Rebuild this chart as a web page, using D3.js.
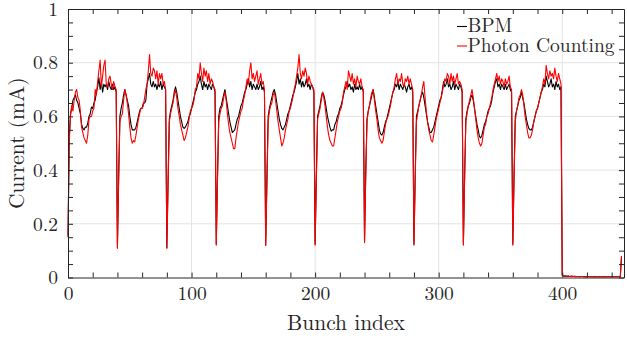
<!DOCTYPE html>
<html>
<head>
<meta charset="utf-8">
<script src="https://cdn.jsdelivr.net/npm/d3@7"></script>
<style>
  body { margin: 0; background: #fff; }
  svg { display: block; }
</style>
</head>
<body>
<div id="chart"></div>
<script>
// bunch current, one line per 40-bunch train
const bpmCurrent = [
  0.15,0.52,0.61,0.63,0.66,0.67,0.68,0.66,0.65,0.63,0.61,0.57,0.555,0.55,0.56,0.56,0.575,0.60,0.61,0.635,0.63,0.65,0.66,0.69,0.71,0.745,0.70,0.73,0.69,0.72,0.71,0.72,0.70,0.73,0.71,0.70,0.72,0.70,0.71,0.69,
  0.11,0.38,0.60,0.63,0.65,0.68,0.70,0.68,0.66,0.64,0.60,0.57,0.55,0.55,0.55,0.56,0.58,0.60,0.62,0.63,0.63,0.65,0.65,0.66,0.72,0.74,0.76,0.72,0.71,0.73,0.71,0.72,0.70,0.72,0.71,0.73,0.70,0.72,0.71,0.70,
  0.11,0.36,0.59,0.62,0.64,0.66,0.69,0.71,0.69,0.66,0.63,0.60,0.58,0.56,0.555,0.56,0.57,0.58,0.60,0.61,0.63,0.65,0.67,0.69,0.70,0.72,0.73,0.75,0.72,0.70,0.73,0.71,0.72,0.70,0.72,0.71,0.70,0.72,0.71,0.69,
  0.125,0.38,0.60,0.63,0.64,0.66,0.68,0.70,0.67,0.64,0.61,0.58,0.56,0.54,0.545,0.55,0.57,0.59,0.60,0.62,0.64,0.65,0.67,0.69,0.70,0.72,0.74,0.71,0.73,0.70,0.72,0.71,0.70,0.72,0.70,0.71,0.73,0.70,0.71,0.69,
  0.12,0.37,0.60,0.63,0.65,0.67,0.69,0.70,0.68,0.65,0.62,0.59,0.57,0.555,0.55,0.56,0.57,0.59,0.61,0.62,0.64,0.66,0.68,0.69,0.71,0.73,0.76,0.72,0.74,0.71,0.73,0.71,0.72,0.74,0.71,0.72,0.70,0.72,0.71,0.69,
  0.125,0.38,0.60,0.62,0.64,0.67,0.69,0.68,0.66,0.63,0.60,0.58,0.56,0.545,0.55,0.55,0.57,0.58,0.60,0.61,0.63,0.64,0.66,0.68,0.70,0.71,0.73,0.71,0.72,0.70,0.71,0.69,0.72,0.70,0.71,0.70,0.72,0.70,0.71,0.69,
  0.135,0.40,0.59,0.62,0.64,0.66,0.68,0.70,0.67,0.64,0.61,0.58,0.55,0.535,0.53,0.54,0.56,0.58,0.59,0.61,0.63,0.65,0.67,0.69,0.70,0.72,0.71,0.73,0.70,0.72,0.71,0.70,0.72,0.71,0.69,0.71,0.72,0.70,0.71,0.69,
  0.125,0.38,0.60,0.62,0.64,0.66,0.68,0.69,0.67,0.64,0.61,0.58,0.56,0.54,0.54,0.55,0.56,0.58,0.60,0.62,0.64,0.66,0.67,0.70,0.73,0.71,0.72,0.74,0.71,0.72,0.70,0.71,0.73,0.70,0.72,0.71,0.70,0.72,0.71,0.69,
  0.125,0.38,0.59,0.62,0.64,0.65,0.67,0.68,0.66,0.63,0.60,0.57,0.55,0.525,0.52,0.53,0.55,0.57,0.58,0.60,0.62,0.63,0.64,0.66,0.69,0.71,0.73,0.74,0.71,0.72,0.70,0.72,0.71,0.70,0.72,0.70,0.71,0.72,0.70,0.69,
  0.125,0.38,0.60,0.62,0.64,0.66,0.67,0.69,0.67,0.65,0.62,0.59,0.57,0.555,0.55,0.55,0.56,0.58,0.60,0.62,0.63,0.65,0.67,0.69,0.70,0.72,0.71,0.75,0.73,0.71,0.72,0.74,0.71,0.72,0.70,0.73,0.71,0.72,0.70,0.71,
  0.008,0.006,0.005,0.005,0.004,0.005,0.004,0.004,0.005,0.004,0.004,0.003,0.004,0.004,0.003,0.004,0.004,0.003,0.003,0.004,0.003,0.003,0.004,0.003,0.003,
  0.003,0.004,0.003,0.003,0.003,0.004,0.003,0.003,0.003,0.004,0.003,0.003,0.003,0.004,0.003,0.003,0.003,0.004,0.003,0.003,0.003,0.004,0.003,0.078
];

const photonCurrent = [
  0.16,0.50,0.60,0.64,0.62,0.66,0.69,0.70,0.67,0.66,0.62,0.56,0.54,0.52,0.51,0.50,0.53,0.59,0.60,0.60,0.62,0.63,0.70,0.68,0.73,0.77,0.81,0.71,0.75,0.79,0.81,0.72,0.71,0.74,0.75,0.72,0.70,0.73,0.71,0.70,
  0.11,0.36,0.58,0.60,0.61,0.66,0.70,0.68,0.65,0.61,0.56,0.52,0.50,0.51,0.505,0.53,0.56,0.59,0.61,0.63,0.63,0.64,0.67,0.70,0.72,0.77,0.83,0.76,0.75,0.78,0.77,0.74,0.77,0.72,0.76,0.74,0.76,0.72,0.73,0.70,
  0.11,0.34,0.58,0.61,0.63,0.65,0.68,0.70,0.67,0.63,0.60,0.57,0.55,0.53,0.51,0.52,0.54,0.56,0.59,0.62,0.63,0.64,0.66,0.70,0.71,0.76,0.74,0.80,0.76,0.73,0.78,0.75,0.77,0.73,0.76,0.72,0.74,0.73,0.71,0.70,
  0.12,0.36,0.58,0.61,0.63,0.64,0.67,0.69,0.66,0.61,0.57,0.54,0.52,0.50,0.48,0.48,0.52,0.55,0.58,0.60,0.62,0.63,0.66,0.68,0.71,0.74,0.72,0.77,0.80,0.74,0.76,0.73,0.75,0.77,0.72,0.74,0.76,0.72,0.73,0.70,
  0.12,0.35,0.58,0.62,0.64,0.65,0.68,0.69,0.66,0.62,0.58,0.55,0.52,0.49,0.50,0.52,0.55,0.57,0.59,0.62,0.63,0.65,0.67,0.70,0.72,0.75,0.78,0.83,0.76,0.74,0.77,0.75,0.78,0.76,0.72,0.75,0.73,0.72,0.71,0.70,
  0.12,0.36,0.59,0.61,0.63,0.66,0.69,0.67,0.64,0.60,0.56,0.53,0.51,0.50,0.49,0.49,0.52,0.55,0.58,0.60,0.62,0.63,0.65,0.69,0.71,0.73,0.70,0.77,0.75,0.73,0.76,0.72,0.74,0.71,0.75,0.73,0.72,0.74,0.71,0.70,
  0.13,0.38,0.58,0.62,0.64,0.67,0.69,0.70,0.66,0.62,0.59,0.55,0.52,0.51,0.50,0.51,0.54,0.57,0.59,0.60,0.62,0.64,0.67,0.69,0.71,0.74,0.76,0.72,0.74,0.73,0.76,0.72,0.71,0.74,0.73,0.75,0.72,0.74,0.72,0.70,
  0.12,0.36,0.58,0.61,0.64,0.66,0.68,0.71,0.73,0.67,0.62,0.58,0.55,0.53,0.51,0.505,0.53,0.56,0.59,0.61,0.63,0.65,0.67,0.69,0.72,0.74,0.73,0.76,0.75,0.72,0.76,0.73,0.75,0.72,0.74,0.76,0.72,0.73,0.72,0.70,
  0.12,0.36,0.58,0.61,0.64,0.66,0.68,0.70,0.67,0.63,0.59,0.55,0.52,0.50,0.49,0.50,0.53,0.56,0.57,0.60,0.61,0.63,0.65,0.67,0.70,0.72,0.74,0.76,0.73,0.75,0.72,0.74,0.73,0.71,0.74,0.72,0.73,0.75,0.71,0.70,
  0.12,0.36,0.58,0.62,0.64,0.67,0.68,0.70,0.68,0.64,0.60,0.57,0.54,0.52,0.52,0.53,0.55,0.58,0.60,0.62,0.63,0.65,0.67,0.69,0.71,0.74,0.72,0.79,0.76,0.74,0.77,0.75,0.76,0.74,0.78,0.75,0.73,0.76,0.74,0.72,
  0.009,0.006,0.006,0.005,0.005,0.005,0.004,0.005,0.004,0.004,0.005,0.004,0.004,0.004,0.003,0.004,0.004,0.004,0.003,0.004,0.003,0.004,0.004,0.003,0.003,
  0.004,0.003,0.003,0.004,0.003,0.003,0.004,0.003,0.003,0.003,0.004,0.003,0.003,0.004,0.003,0.003,0.003,0.004,0.003,0.003,0.004,0.003,0.004,0.08
];

const seriesNames = ["BPM", "Photon Counting"];
const seriesColors = ["#000000", "#ff0000"];
const xTicks = [0, 100, 200, 300, 400];
const yTicks = [0, 0.2, 0.4, 0.6, 0.8, 1];

const FONT = '"Latin Modern Roman", "Liberation Serif", serif';
const INK = "#262626";

const W = 627, H = 338;
const margin = { top: 9, right: 3, bottom: 60.5, left: 68 };
const width = W - margin.left - margin.right;
const height = H - margin.top - margin.bottom;

const svg = d3.select("#chart").append("svg")
  .attr("width", W).attr("height", H);
const g = svg.append("g").attr("transform", `translate(${margin.left},${margin.top})`);

const x = d3.scaleLinear().domain([0, 450]).range([0, width]);
const y = d3.scaleLinear().domain([0, 1]).range([height, 0]);

// grid
g.append("g").selectAll("line").data(xTicks.slice(1)).join("line")
  .attr("x1", d => x(d)).attr("x2", d => x(d))
  .attr("y1", 0).attr("y2", height)
  .attr("stroke", "#e3e3e3").attr("stroke-width", 1);
g.append("g").selectAll("line").data(yTicks.slice(1, -1)).join("line")
  .attr("y1", d => y(d)).attr("y2", d => y(d))
  .attr("x1", 0).attr("x2", width)
  .attr("stroke", "#e3e3e3").attr("stroke-width", 1);

// series
const line = d3.line().x((d, i) => x(i)).y(d => y(d));
[bpmCurrent, photonCurrent].forEach((vals, s) => {
  g.append("path")
    .datum(vals)
    .attr("fill", "none")
    .attr("stroke", seriesColors[s])
    .attr("stroke-width", 1.1)
    .attr("stroke-linejoin", "round")
    .attr("d", line);
});

// axes, ticks inward on all four sides
const xMinor = d3.range(0, 451, 20);
const yMinor = d3.range(0, 1.0001, 0.05);
const tickLen = 5;

const styleAxis = sel => {
  sel.attr("font-family", FONT);
  sel.select(".domain").attr("stroke", INK);
  sel.selectAll(".tick line").attr("stroke", INK);
  sel.selectAll("text").attr("font-size", 19.5).attr("fill", INK)
    .attr("font-family", FONT).style("font-family", FONT);
};

g.append("g").attr("transform", `translate(0,${height})`)
  .call(d3.axisBottom(x).tickValues(xMinor).tickFormat("").tickSize(-tickLen).tickSizeOuter(0))
  .call(styleAxis);
g.append("g").attr("transform", `translate(0,${height})`)
  .call(d3.axisBottom(x).tickValues(xTicks).tickSize(0).tickPadding(9))
  .call(styleAxis).call(a => a.select(".domain").remove());
g.append("g")
  .call(d3.axisTop(x).tickValues(xMinor).tickFormat("").tickSize(-tickLen).tickSizeOuter(0))
  .call(styleAxis);

g.append("g")
  .call(d3.axisLeft(y).tickValues(yMinor).tickFormat("").tickSize(-tickLen).tickSizeOuter(0))
  .call(styleAxis);
g.append("g")
  .call(d3.axisLeft(y).tickValues(yTicks).tickFormat(d3.format("~g")).tickSize(0).tickPadding(10))
  .call(styleAxis).call(a => a.select(".domain").remove());
g.append("g").attr("transform", `translate(${width},0)`)
  .call(d3.axisRight(y).tickValues(yMinor).tickFormat("").tickSize(-tickLen).tickSizeOuter(0))
  .call(styleAxis);

// axis titles
svg.append("text")
  .attr("x", margin.left + x(225)).attr("y", 330)
  .attr("text-anchor", "middle").attr("font-size", 21.5)
  .attr("font-family", FONT).style("font-family", FONT).attr("fill", INK)
  .text("Bunch index");
svg.append("text")
  .attr("transform", `translate(24,${margin.top + height / 2}) rotate(-90)`)
  .attr("text-anchor", "middle").attr("font-size", 21.5)
  .attr("font-family", FONT).style("font-family", FONT).attr("fill", INK)
  .text("Current (mA)");

// legend
const legend = svg.append("g").attr("transform", "translate(457,26.5)");
seriesNames.forEach((name, s) => {
  const row = legend.append("g").attr("transform", `translate(0,${s * 19.5})`);
  row.append("line").attr("x1", 0).attr("x2", 10).attr("y1", 0).attr("y2", 0)
    .attr("stroke", seriesColors[s]).attr("stroke-width", 1.1);
  row.append("text").attr("x", 10.5).attr("y", 5.5).attr("font-size", 19.5)
    .attr("font-family", FONT).style("font-family", FONT).attr("fill", INK)
    .text(name);
});
</script>
</body>
</html>
